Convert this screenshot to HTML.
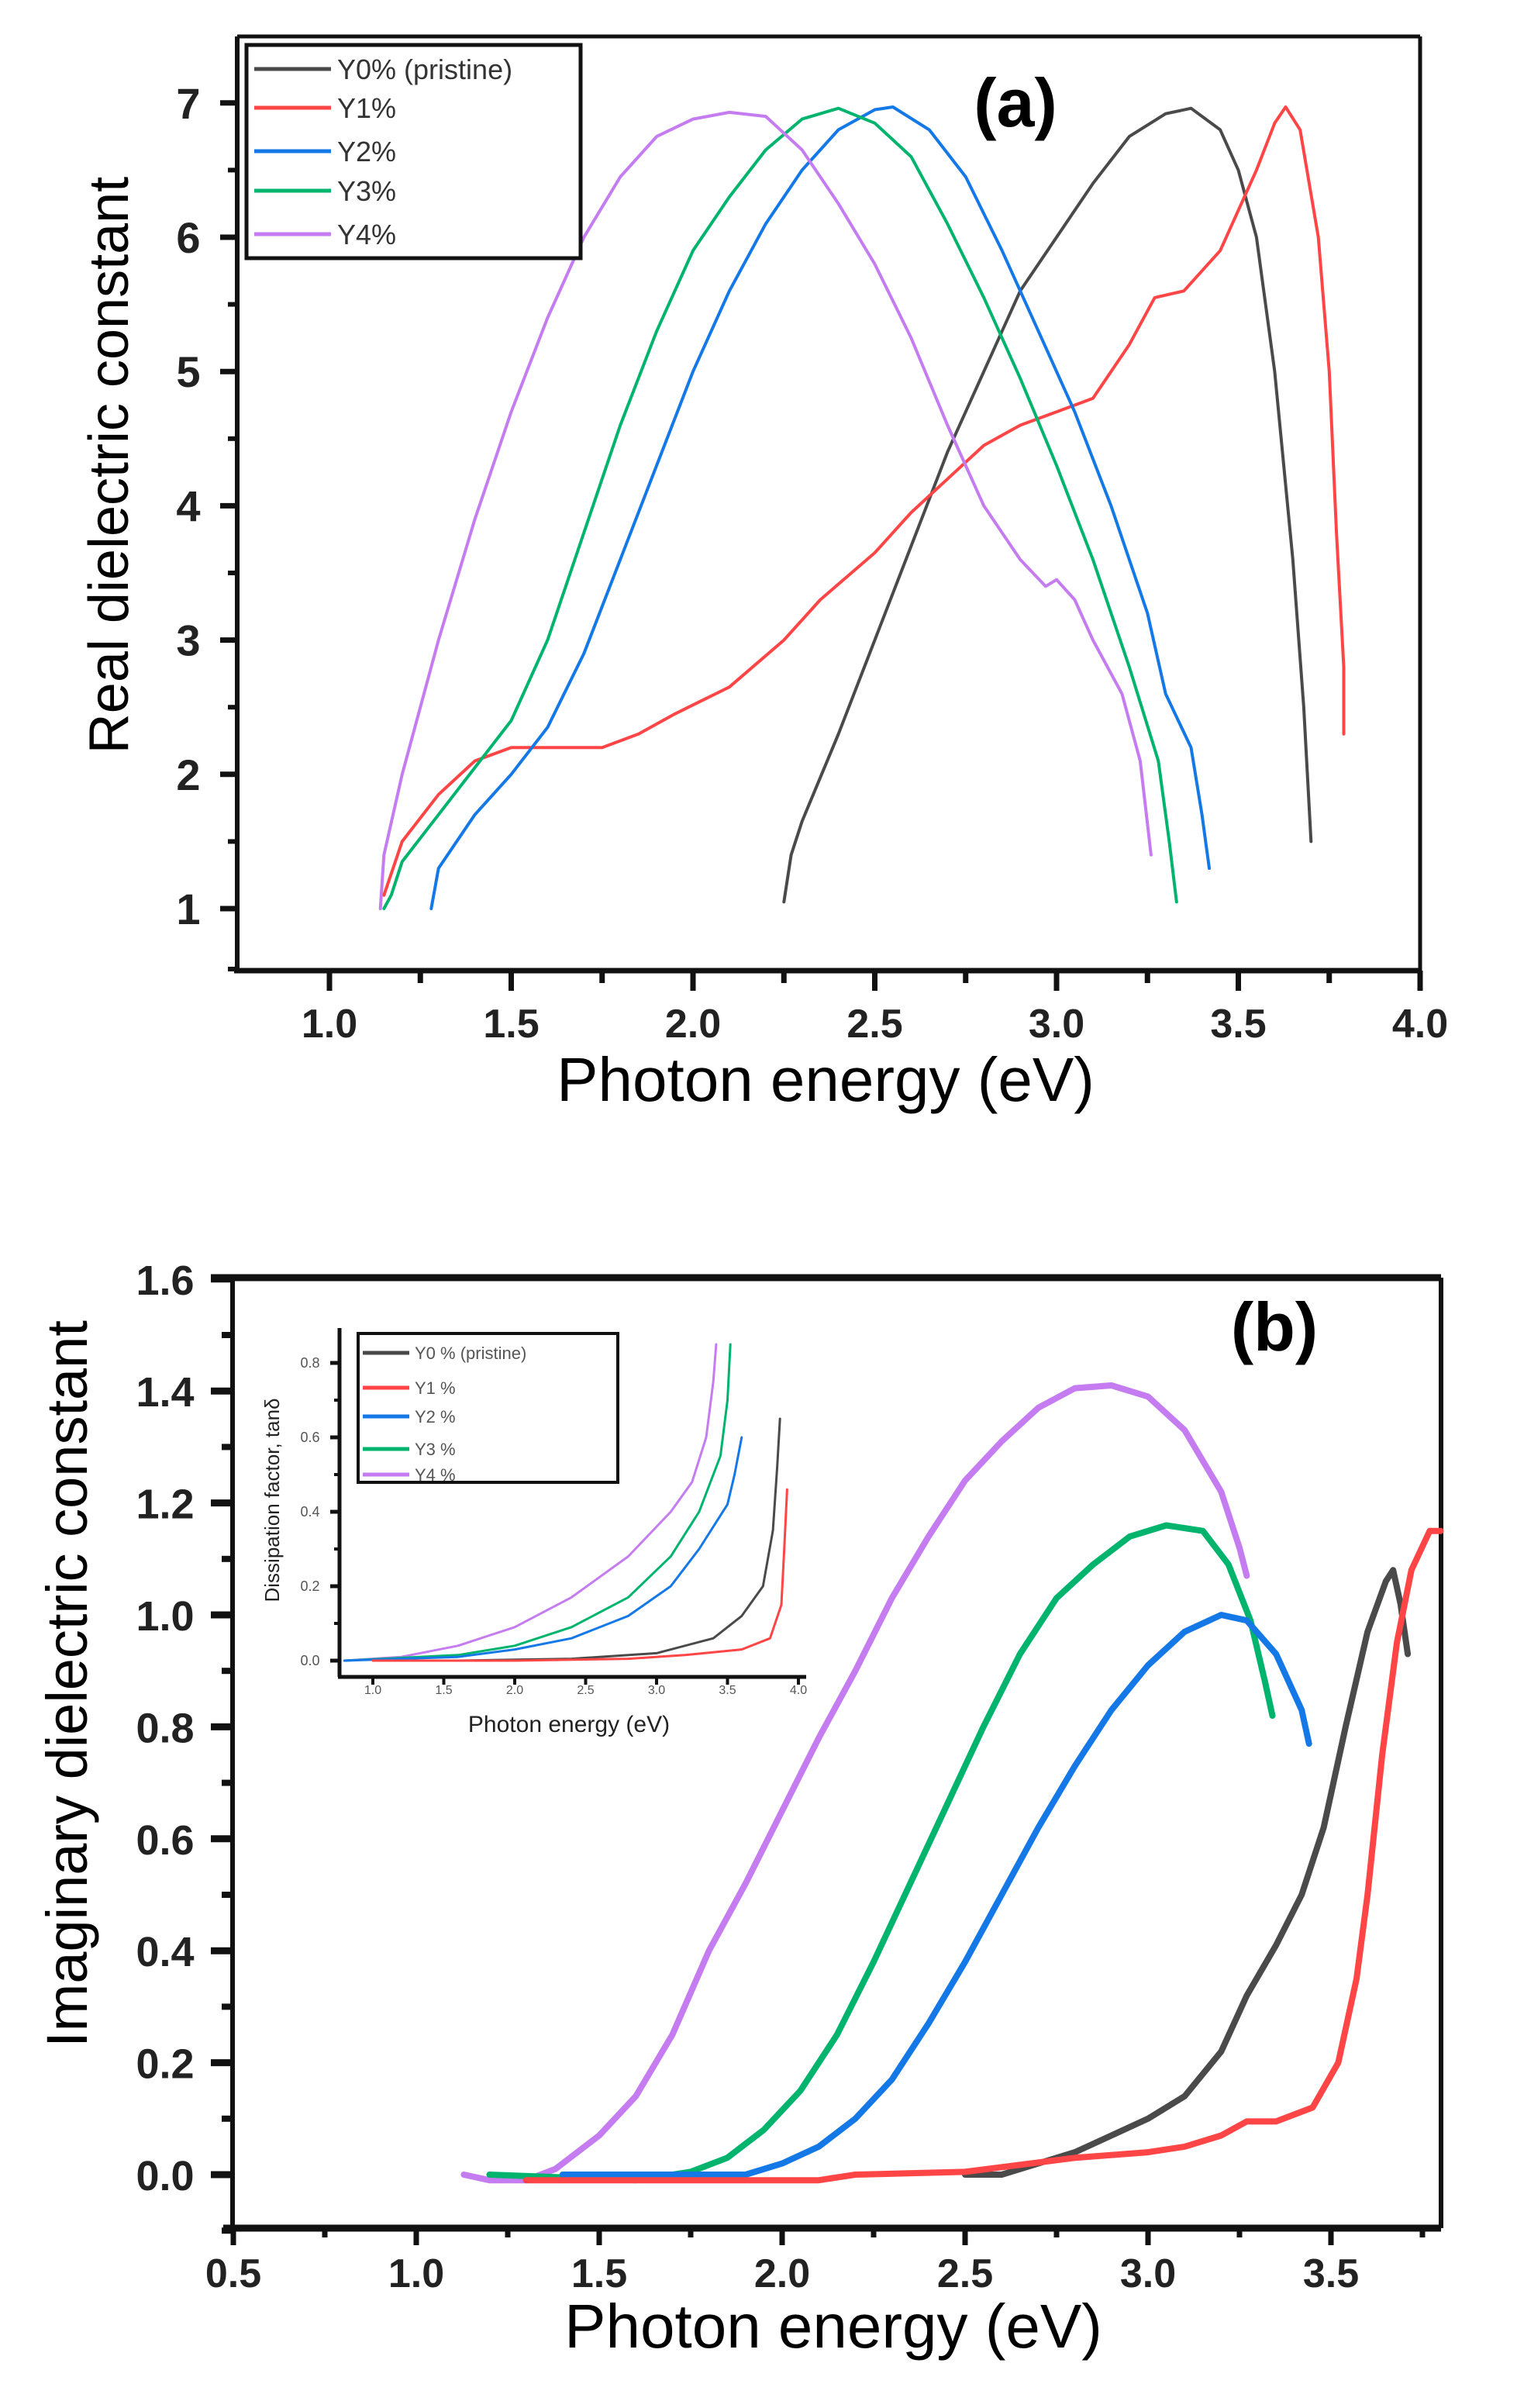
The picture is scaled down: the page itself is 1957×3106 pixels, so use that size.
<!DOCTYPE html>
<html><head><meta charset="utf-8">
<style>
html,body{margin:0;padding:0;background:#fff;}
svg{display:block;font-family:"Liberation Sans",Arial,sans-serif;}
</style></head>
<body>
<svg id="s" width="1957" height="3106" viewBox="0 0 1957 3106" xmlns="http://www.w3.org/2000/svg">
<rect width="1957" height="3106" fill="#fff"/>
<g id="g"></g>
<text x="1310" y="163" font-size="88" font-weight="bold" text-anchor="middle">(a)</text>
<text x="1065" y="1420" font-size="80" text-anchor="middle">Photon energy (eV)</text>
<text transform="translate(165,600) rotate(-90)" font-size="72" text-anchor="middle">Real dielectric constant</text>
<text x="1644" y="1742" font-size="88" font-weight="bold" text-anchor="middle">(b)</text>
<text x="1075" y="3028" font-size="80" text-anchor="middle">Photon energy (eV)</text>
<text transform="translate(112,2172) rotate(-90)" font-size="74" text-anchor="middle">Imaginary dielectric constant</text>
<text x="734" y="2234" font-size="30" text-anchor="middle" fill="#222">Photon energy (eV)</text>
<text transform="translate(360,1935) rotate(-90)" font-size="26" text-anchor="middle" fill="#222">Dissipation factor, tanδ</text>
</svg>
<script>
var g=document.getElementById('g'),h='';
function L(x1,y1,x2,y2,w,c){h+='<line x1="'+x1+'" y1="'+y1+'" x2="'+x2+'" y2="'+y2+'" stroke="'+(c||'#111')+'" stroke-width="'+w+'"/>';}
function T(x,y,s,fs,a,c,fw){h+='<text x="'+x+'" y="'+y+'" font-size="'+fs+'" text-anchor="'+(a||'middle')+'" fill="'+(c||'#111')+'"'+(fw?' font-weight="bold"':'')+'>'+s+'</text>';}
function P(pts,X,Y,c,w){var d='';for(var i=0;i<pts.length;i++){d+=(i?'L':'M')+X(pts[i][0]).toFixed(1)+' '+Y(pts[i][1]).toFixed(1);}h+='<path d="'+d+'" fill="none" stroke="'+c+'" stroke-width="'+w+'" stroke-linejoin="round" stroke-linecap="round"/>';}
var C={k:'#4a4a4a',r:'#ff4545',b:'#1478e6',gr:'#00b46e',p:'#c57cf0'};
var ax=function(e){return 425+(e-1)*469;}, ay=function(v){return 1172-(v-1)*173.2;};
var aL=306,aR=1832,aT=47,aB=1252;
L(aL,aT,aR,aT,5);L(aL,aT,aL,aB,6);L(aR,aT,aR,aB,5);L(aL-4,aB,aR+2,aB,7);
for(var v=1;v<=7;v++){L(aL-22,ay(v),aL,ay(v),7);T(243,ay(v)+20,v,56,'middle','#222',true);}
for(var v=1.5;v<7.5;v+=1){L(aL-12,ay(v),aL,ay(v),6);}
L(aL-12,ay(0.55),aL,ay(0.55),6);
for(var e=1;e<=4.001;e+=0.5){L(ax(e),aB,ax(e),aB+26,7);T(ax(e),1338,e.toFixed(1),52,'middle','#222',true);}
for(var e=0.75;e<4;e+=0.5){if(e>0.76)L(ax(e),aB,ax(e),aB+16,7);}
P([[2.25,1.05],[2.27,1.4],[2.3,1.65],[2.4,2.3],[2.5,3.0],[2.6,3.7],[2.7,4.4],[2.8,5.0],[2.9,5.6],[3.0,6.0],[3.1,6.4],[3.2,6.75],[3.3,6.92],[3.37,6.96],[3.45,6.8],[3.5,6.5],[3.55,6.0],[3.6,5.0],[3.65,3.6],[3.68,2.5],[3.7,1.5]],ax,ay,C.k,4);
P([[1.15,1.1],[1.2,1.5],[1.3,1.85],[1.4,2.1],[1.5,2.2],[1.6,2.2],[1.75,2.2],[1.85,2.3],[1.95,2.45],[2.1,2.65],[2.25,3.0],[2.35,3.3],[2.5,3.65],[2.6,3.95],[2.7,4.2],[2.8,4.45],[2.9,4.6],[3.0,4.7],[3.1,4.8],[3.2,5.2],[3.27,5.55],[3.35,5.6],[3.45,5.9],[3.55,6.5],[3.6,6.85],[3.63,6.97],[3.67,6.8],[3.72,6.0],[3.75,5.0],[3.77,3.8],[3.79,2.8],[3.79,2.3]],ax,ay,C.r,4);
P([[1.28,1.0],[1.3,1.3],[1.4,1.7],[1.5,2.0],[1.6,2.35],[1.7,2.9],[1.8,3.6],[1.9,4.3],[2.0,5.0],[2.1,5.6],[2.2,6.1],[2.3,6.5],[2.4,6.8],[2.5,6.95],[2.55,6.97],[2.65,6.8],[2.75,6.45],[2.85,5.9],[2.95,5.3],[3.05,4.7],[3.15,4.0],[3.25,3.2],[3.3,2.6],[3.37,2.2],[3.4,1.7],[3.42,1.3]],ax,ay,C.b,4);
P([[1.15,1.0],[1.17,1.1],[1.2,1.35],[1.3,1.7],[1.4,2.05],[1.5,2.4],[1.6,3.0],[1.7,3.8],[1.8,4.6],[1.9,5.3],[2.0,5.9],[2.1,6.3],[2.2,6.65],[2.3,6.88],[2.4,6.96],[2.5,6.85],[2.6,6.6],[2.7,6.1],[2.8,5.55],[2.9,4.95],[3.0,4.3],[3.1,3.6],[3.2,2.8],[3.28,2.1],[3.31,1.5],[3.33,1.05]],ax,ay,C.gr,4);
P([[1.14,1.0],[1.15,1.4],[1.2,2.0],[1.3,3.0],[1.4,3.9],[1.5,4.7],[1.6,5.4],[1.7,6.0],[1.8,6.45],[1.9,6.75],[2.0,6.88],[2.1,6.93],[2.2,6.9],[2.3,6.65],[2.4,6.25],[2.5,5.8],[2.6,5.25],[2.7,4.6],[2.8,4.0],[2.9,3.6],[2.97,3.4],[3.0,3.45],[3.05,3.3],[3.1,3.0],[3.18,2.6],[3.23,2.1],[3.26,1.4]],ax,ay,C.p,4);
h+='<rect x="318" y="58" width="431" height="275" fill="#fff" stroke="#111" stroke-width="5"/>';
var la=[['Y0% (pristine)',C.k,89],['Y1%',C.r,139],['Y2%',C.b,195],['Y3%',C.gr,246],['Y4%',C.p,302]];
la.forEach(function(o){L(328,o[2],427,o[2],5,o[1]);T(435,o[2]+13,o[0],36,'start','#333');});
var bx=function(e){return 301+(e-0.5)*472;}, by=function(v){return 2805-v*722;};
var bL=300,bR=1859,bT=1648,bB=2874;
L(bL-28,bT,bR,bT,9);L(bL,bT,bL,bB,6);L(bR,bT,bR,bB,6);L(bL-12,bB,bR,bB,9);
for(var i=0;i<=8;i++){var v=i*0.2;L(bL-28,by(v),bL,by(v),9);T(213,by(v)+20,v.toFixed(1),54,'middle','#222',true);}
for(var i=0;i<8;i++){var v=i*0.2+0.1;L(bL-14,by(v),bL,by(v),8);}
L(bL-14,by(-0.1),bL,by(-0.1),8);
for(var e=0.5;e<=3.51;e+=0.5){L(bx(e),bB,bx(e),bB+22,7);T(bx(e),2950,e.toFixed(1),52,'middle','#222',true);}
for(var e=0.75;e<3.8;e+=0.5){L(bx(e),bB,bx(e),bB+12,7);}
P([[1.13,0],[1.2,-0.01],[1.3,-0.01],[1.38,0.01],[1.5,0.07],[1.6,0.14],[1.7,0.25],[1.8,0.4],[1.9,0.52],[2.0,0.65],[2.1,0.78],[2.2,0.9],[2.3,1.03],[2.4,1.14],[2.5,1.24],[2.6,1.31],[2.7,1.37],[2.8,1.405],[2.9,1.41],[3.0,1.39],[3.1,1.33],[3.2,1.22],[3.25,1.12],[3.27,1.07]],bx,by,C.p,8);
P([[1.2,0],[1.6,-0.01],[1.75,0.005],[1.85,0.03],[1.95,0.08],[2.05,0.15],[2.15,0.25],[2.25,0.38],[2.35,0.52],[2.45,0.66],[2.55,0.8],[2.65,0.93],[2.75,1.03],[2.85,1.09],[2.95,1.14],[3.05,1.16],[3.15,1.15],[3.22,1.09],[3.28,0.99],[3.32,0.88],[3.34,0.82]],bx,by,C.gr,8);
P([[1.4,0],[1.9,0.0],[2.0,0.02],[2.1,0.05],[2.2,0.1],[2.3,0.17],[2.4,0.27],[2.5,0.38],[2.6,0.5],[2.7,0.62],[2.8,0.73],[2.9,0.83],[3.0,0.91],[3.1,0.97],[3.2,1.0],[3.27,0.99],[3.35,0.93],[3.42,0.83],[3.44,0.77]],bx,by,C.b,8);
P([[2.5,0],[2.6,0.0],[2.7,0.02],[2.8,0.04],[2.9,0.07],[3.0,0.1],[3.1,0.14],[3.2,0.22],[3.27,0.32],[3.35,0.41],[3.42,0.5],[3.48,0.62],[3.54,0.8],[3.6,0.97],[3.65,1.06],[3.67,1.08],[3.69,1.02],[3.71,0.93]],bx,by,C.k,8);
P([[1.3,-0.01],[2.1,-0.01],[2.2,0.0],[2.5,0.005],[2.8,0.03],[3.0,0.04],[3.1,0.05],[3.2,0.07],[3.27,0.095],[3.35,0.095],[3.45,0.12],[3.52,0.2],[3.57,0.35],[3.6,0.5],[3.64,0.75],[3.68,0.95],[3.72,1.08],[3.77,1.15],[3.8,1.15]],bx,by,C.r,8);
var ix=function(e){return 481+(e-1)*183;}, iy=function(v){return 2142-v*480;};
var iL=438,iR=1040,iT=1713,iB=2163;
L(iL,iT,iL,iB,5);L(iL-2,iB,iR,iB,5);
for(var i=0;i<=4;i++){var v=i*0.2;L(iL-12,iy(v),iL,iy(v),5);T(400,iy(v)+6,v.toFixed(1),18,'middle','#555');}
for(var i=0;i<4;i++){var v=i*0.2+0.1;L(iL-7,iy(v),iL,iy(v),4);}
for(var e=1;e<=4.001;e+=0.5){L(ix(e),iB,ix(e),iB+10,4);T(ix(e),2185,e.toFixed(1),16,'middle','#555');}
P([[0.8,0],[1.2,0.01],[1.6,0.04],[2.0,0.09],[2.4,0.17],[2.8,0.28],[3.1,0.4],[3.25,0.48],[3.35,0.6],[3.4,0.75],[3.42,0.85]],ix,iy,C.p,3);
P([[0.8,0],[1.6,0.015],[2.0,0.04],[2.4,0.09],[2.8,0.17],[3.1,0.28],[3.3,0.4],[3.45,0.55],[3.5,0.7],[3.52,0.85]],ix,iy,C.gr,3);
P([[0.8,0],[1.6,0.01],[2.0,0.03],[2.4,0.06],[2.8,0.12],[3.1,0.2],[3.3,0.3],[3.5,0.42],[3.55,0.5],[3.6,0.6]],ix,iy,C.b,3);
P([[1.6,0],[2.4,0.005],[3.0,0.02],[3.4,0.06],[3.6,0.12],[3.75,0.2],[3.82,0.35],[3.85,0.52],[3.87,0.65]],ix,iy,C.k,3);
P([[1.0,0],[2.0,0],[2.8,0.005],[3.2,0.015],[3.6,0.03],[3.8,0.06],[3.88,0.15],[3.9,0.3],[3.92,0.46]],ix,iy,C.r,3);
h+='<rect x="462" y="1720" width="335" height="192" fill="#fff" stroke="#111" stroke-width="4"/>';
var lb=[['Y0 % (pristine)',C.k,1745],['Y1 %',C.r,1790],['Y2 %',C.b,1827],['Y3 %',C.gr,1869],['Y4 %',C.p,1902]];
lb.forEach(function(o){L(468,o[2],528,o[2],5,o[1]);T(535,o[2]+8,o[0],22,'start','#555');});
g.innerHTML=h;
</script>
</body></html>
